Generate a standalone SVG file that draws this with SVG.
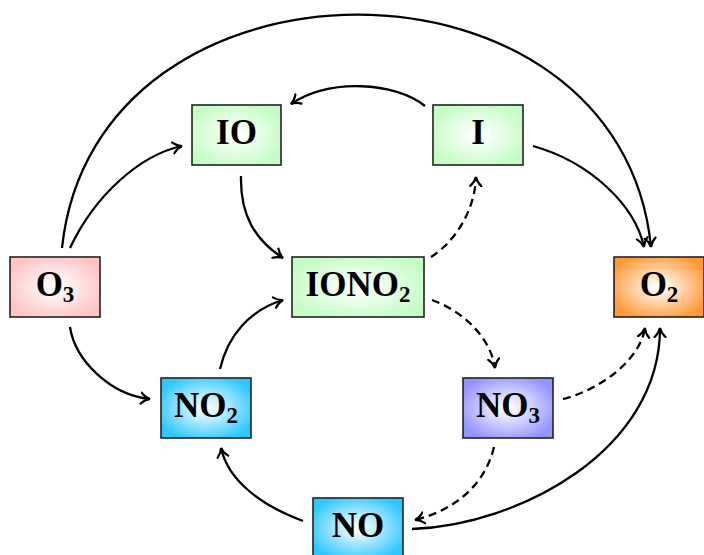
<svg xmlns="http://www.w3.org/2000/svg" width="704" height="555" viewBox="0 0 704 555">
<style>
.box{stroke:#222;stroke-width:1.6}
.lbl{font-family:"Liberation Serif","Times New Roman",serif;font-weight:bold;font-size:35px;fill:#000;text-anchor:middle}
.sub{font-size:23px}
.e{fill:none;stroke:#000;stroke-width:2.3;marker-end:url(#arr)}
.d{stroke-dasharray:8 5}
</style>
<defs>
<marker id="arr" markerUnits="userSpaceOnUse" markerWidth="20" markerHeight="20" viewBox="-10 -10 20 20" refX="0" refY="0" orient="auto">
<path d="M-9,-5.5 C-6,-2.2 -2.5,-0.6 0,0 C-2.5,0.6 -6,2.2 -9,5.5" fill="none" stroke="#000" stroke-width="2.2" stroke-linecap="round" stroke-dasharray="none"/>
</marker>
<radialGradient id="gRed" cx="50%" cy="50%" r="60%"><stop offset="0.05" stop-color="#fff"/><stop offset="0.95" stop-color="#ffc4c4"/></radialGradient>
<radialGradient id="gGreen" cx="50%" cy="50%" r="60%"><stop offset="0.05" stop-color="#fff"/><stop offset="0.95" stop-color="#c4fcc4"/></radialGradient>
<radialGradient id="gOrange" cx="50%" cy="50%" r="60%"><stop offset="0.05" stop-color="#fff"/><stop offset="0.95" stop-color="#ff9a38"/></radialGradient>
<radialGradient id="gCyan" cx="50%" cy="50%" r="60%"><stop offset="0.05" stop-color="#fff"/><stop offset="0.95" stop-color="#2ec8ff"/></radialGradient>
<radialGradient id="gBlue" cx="50%" cy="50%" r="60%"><stop offset="0.05" stop-color="#fff"/><stop offset="0.95" stop-color="#9494ff"/></radialGradient>
</defs>
<rect width="704" height="555" fill="#fff"/>
<g id="connectors">
<path class="e" d="M62,248 C95,-63 620,-63 651,247"/>
<path class="e" d="M70,248 C95,195 140,155 182,146"/>
<path class="e" d="M425,106 C395,82 330,78 291,104"/>
<path class="e" d="M533,146 C590,162 635,205 644,247"/>
<path class="e" d="M241,176 C240,215 255,240 283,258"/>
<path class="e d" d="M431,257 C455,242 475,210 476,177"/>
<path class="e d" d="M432,300 C460,310 490,335 495,368"/>
<path class="e" d="M70,327 C75,360 110,395 150,399"/>
<path class="e" d="M220,369 C228,335 250,310 283,300"/>
<path class="e d" d="M563,399 C600,390 640,360 645,328"/>
<path class="e" d="M412,529 C520,525 660,450 660,328"/>
<path class="e" d="M303,521 C260,505 228,480 221,448"/>
<path class="e d" d="M494,447 C485,485 455,510 415,520"/>
</g>
<g id="O3"><rect class="box" x="10" y="257" width="90" height="60" fill="url(#gRed)"/><text class="lbl" x="55" y="296">O<tspan class="sub" dy="6">3</tspan></text></g>
<g id="IO"><rect class="box" x="192" y="105" width="89" height="60" fill="url(#gGreen)"/><text class="lbl" x="236.5" y="144">IO</text></g>
<g id="I"><rect class="box" x="433" y="105" width="90" height="60" fill="url(#gGreen)"/><text class="lbl" x="478" y="144">I</text></g>
<g id="IONO2"><rect class="box" x="292" y="257" width="132" height="60" fill="url(#gGreen)"/><text class="lbl" x="358" y="296">IONO<tspan class="sub" dy="6">2</tspan></text></g>
<g id="O2"><rect class="box" x="614" y="257" width="90" height="60" fill="url(#gOrange)"/><text class="lbl" x="659" y="296">O<tspan class="sub" dy="6">2</tspan></text></g>
<g id="NO2"><rect class="box" x="161" y="378" width="90" height="60" fill="url(#gCyan)"/><text class="lbl" x="206" y="417">NO<tspan class="sub" dy="6">2</tspan></text></g>
<g id="NO3"><rect class="box" x="463" y="378" width="90" height="60" fill="url(#gBlue)"/><text class="lbl" x="508" y="417">NO<tspan class="sub" dy="6">3</tspan></text></g>
<g id="NO"><rect class="box" x="313" y="498" width="90" height="60" fill="url(#gCyan)"/><text class="lbl" x="358" y="537">NO</text></g>
</svg>
